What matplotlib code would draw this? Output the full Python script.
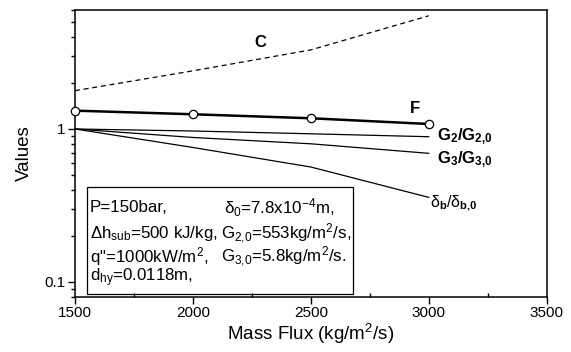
import numpy as np
import matplotlib.pyplot as plt
from matplotlib.patches import Rectangle
from matplotlib.ticker import LogLocator, FixedLocator, NullFormatter

plt.rcParams['font.family'] = ['Liberation Sans', 'DejaVu Sans']
plt.rcParams['mathtext.fontset'] = 'custom'
plt.rcParams['mathtext.rm'] = 'Liberation Sans'
plt.rcParams['mathtext.it'] = 'Liberation Sans'
plt.rcParams['mathtext.bf'] = 'Liberation Sans:bold'

# data
mass_flux = [1500, 2000, 2500, 3000]
C_vals = [1.78, 2.40, 3.29, 5.5]
F_vals = [1.318, 1.248, 1.175, 1.078]
G2_ratio = [1.0, 0.97, 0.93, 0.89]
G3_ratio = [1.0, 0.88, 0.80, 0.693]
delta_ratio = [1.0, 0.757, 0.564, 0.357]

box_lines = [
    ('P=150bar,', 'δ$_0$=7.8x10$^{-4}$m,'),
    ('Δh$_{sub}$=500 kJ/kg,', 'G$_{2{,}0}$=553kg/m$^2$/s,'),
    ('q"=1000kW/m$^2$,', 'G$_{3{,}0}$=5.8kg/m$^2$/s.'),
    ('d$_{hy}$=0.0118m,', ''),
]

fig = plt.figure(figsize=(5.71, 3.52), dpi=100)
ax = fig.add_axes([0.1313, 0.1571, 0.8261, 0.8145])

ax.plot(mass_flux, C_vals, color='black', lw=0.9, ls=(0, (4, 3)))
ax.plot(mass_flux, F_vals, color='black', lw=1.8, marker='o', ms=6,
        mfc='white', mec='black', mew=0.9, clip_on=False, zorder=5)
ax.plot(mass_flux, G2_ratio, color='black', lw=0.9)
ax.plot(mass_flux, G3_ratio, color='black', lw=0.9)
ax.plot(mass_flux, delta_ratio, color='black', lw=0.9)

ax.set_yscale('log')
ax.set_xlim(1500, 3500)
ax.set_ylim(0.08, 6.0)

ax.xaxis.set_major_locator(FixedLocator([1500, 2000, 2500, 3000, 3500]))
ax.xaxis.set_minor_locator(FixedLocator([1750, 2250, 2750, 3250]))
ax.yaxis.set_major_locator(FixedLocator([0.1, 1]))
ax.set_yticklabels(['0.1', '1'])
ax.yaxis.set_minor_locator(LogLocator(base=10, subs=np.arange(2, 10)))
ax.yaxis.set_minor_formatter(NullFormatter())

ax.tick_params(which='both', direction='out', labelsize=11, width=1.0)
ax.tick_params(which='major', length=5, pad=2)
ax.tick_params(which='minor', length=3)
ax.tick_params(axis='x', which='minor', direction='in')
for s in ax.spines.values():
    s.set_linewidth(1.1)

ax.set_xlabel('Mass Flux (kg/m$^2$/s)', fontsize=13.5, labelpad=1)
ax.set_ylabel('Values', fontsize=13.5, labelpad=8)

# curve labels
ax.text(2284, 3.66, 'C', fontsize=12, fontweight='bold', ha='center', va='center')
ax.text(2942, 1.37, 'F', fontsize=12, fontweight='bold', ha='center', va='center')
ax.text(3035, 0.886, r'$\mathbf{G_2/G_{2{,}0}}$', fontsize=12, ha='left', va='center')
ax.text(3035, 0.627, r'$\mathbf{G_3/G_{3{,}0}}$', fontsize=12, ha='left', va='center')
ax.text(3005, 0.328, r'δ$_\mathbf{b}$/δ$_\mathbf{b{,}0}$', fontsize=11.5,
        ha='left', va='center')

# parameter box
ax.add_patch(Rectangle((0.026, 0.009), 0.563, 0.372, transform=ax.transAxes,
                       fill=False, lw=0.9, ec='black'))
rows_y = [0.310, 0.219, 0.140, 0.066]
col2_x = [0.316, 0.31, 0.31, 0.31]
for (left, right), yy, xx in zip(box_lines, rows_y, col2_x):
    ax.text(0.032, yy, left, transform=ax.transAxes, fontsize=12.2, va='center')
    if right:
        ax.text(xx, yy, right, transform=ax.transAxes, fontsize=12.2, va='center')

fig.savefig('out.png', dpi=100)
